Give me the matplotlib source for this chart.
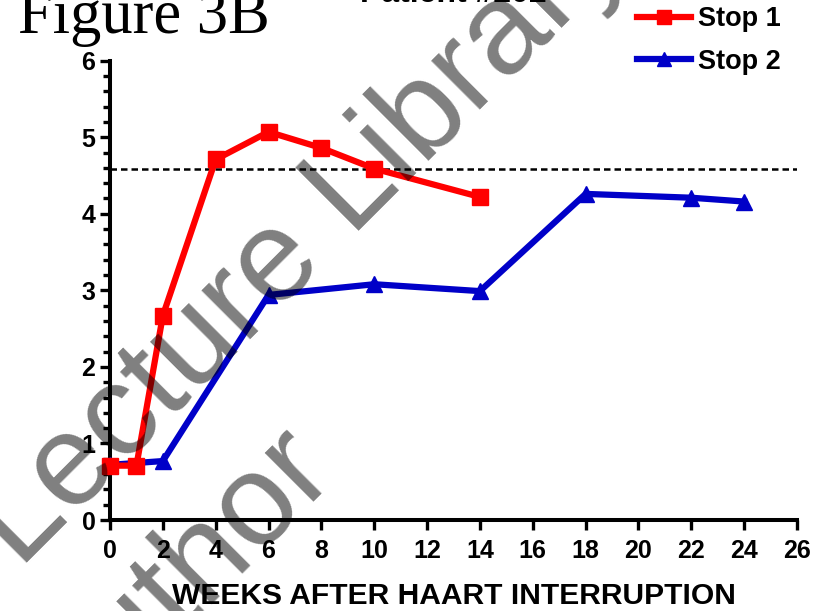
import matplotlib
matplotlib.use("Agg")
import matplotlib.pyplot as plt
from matplotlib.ticker import MultipleLocator

# Viral load (log10 copies/mL) after each treatment stop
weeks_stop1 = [0, 1, 2, 4, 6, 8, 10, 14]
vl_stop1 = [0.71, 0.71, 2.67, 4.71, 5.07, 4.86, 4.59, 4.22]
weeks_stop2 = [0, 2, 6, 10, 14, 18, 22, 24]
vl_stop2 = [0.72, 0.77, 2.94, 3.08, 2.99, 4.26, 4.21, 4.16]
threshold = 4.58
series_labels = ["Stop 1", "Stop 2"]
x_ticks = list(range(0, 27, 2))
y_ticks = list(range(0, 7))

W, H = 823, 611
plt.rcParams["font.family"] = ["Liberation Sans", "DejaVu Sans"]
plt.rcParams["font.weight"] = "bold"

fig = plt.figure(figsize=(W / 100, H / 100), dpi=100)
ax = fig.add_axes([110 / W, 1 - 520 / H, (797 - 110) / W, (520 - 60.7) / H])

red = "#ff0000"
blue = "#0000c8"
ax.plot(weeks_stop1, vl_stop1, color=red, lw=4.5, marker="s", ms=11.5,
        clip_on=False, zorder=4, label=series_labels[0])
ax.plot(weeks_stop2, vl_stop2, color=blue, lw=4.5, marker="^", ms=12,
        clip_on=False, zorder=3, label=series_labels[1])
ax.axhline(threshold, color="black", lw=1.8, dashes=(2.6, 1.6), zorder=2)

ax.set_xlim(0, 26)
ax.set_ylim(0, 6)
ax.set_xticks(x_ticks)
ax.set_yticks(y_ticks)
ax.yaxis.set_minor_locator(MultipleLocator(0.2))
for side in ["top", "right"]:
    ax.spines[side].set_visible(False)
for side in ["left", "bottom"]:
    ax.spines[side].set_linewidth(2.9)
ax.tick_params(axis="both", which="major", length=7.5, width=2.4,
               labelsize=18, pad=3)
ax.tick_params(axis="y", which="minor", length=5, width=2.4)
ax.tick_params(axis="x", pad=6)
for lab in ax.get_xticklabels() + ax.get_yticklabels():
    lab.set_fontweight("bold")

ax.set_xlabel("WEEKS AFTER HAART INTERRUPTION", fontsize=21.6,
              fontweight="bold", labelpad=14)

fig.text(18 / W, 1 - 33 / H, "Figure 3B", family="Liberation Serif",
         fontweight="normal", fontsize=45, ha="left", va="baseline")
fig.text(453 / W, 1 - 2 / H, "Patient #202", fontsize=23,
         fontweight="bold", ha="center", va="baseline")

fig.legend(loc="upper left", bbox_to_anchor=(637 / W, 1 - 6 / H),
           frameon=False, handlelength=2.0,
           handletextpad=0.25, labelspacing=0.62, borderpad=0,
           borderaxespad=0, markerscale=0.85, numpoints=1,
           prop={"weight": "bold", "size": 19.5})

# semi-transparent watermark lettering on top of everything
wm = dict(family="Liberation Sans", fontweight="normal", fontsize=93.5,
          color="black", alpha=0.5, rotation=45, rotation_mode="anchor",
          ha="left", va="baseline", zorder=20)
fig.text(20 / W, 1 - 570 / H, "Lecture Library", **wm)
fig.text(77 / W, 1 - 733 / H, "author", **wm)

fig.savefig("out.png", dpi=100)
